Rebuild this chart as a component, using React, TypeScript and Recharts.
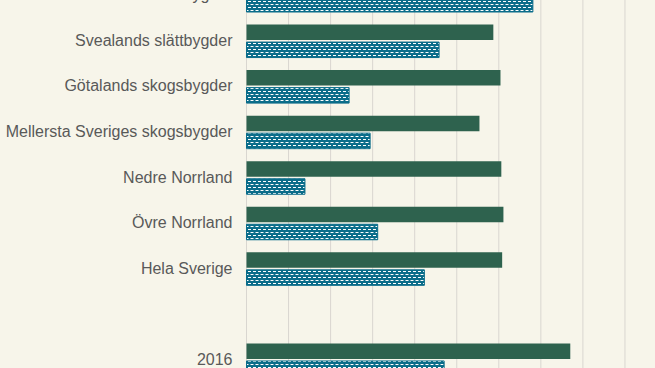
import { BarChart, Bar, XAxis, YAxis, CartesianGrid } from "recharts";

const categories = [
  "Götalands norra slättbygder",
  "Svealands slättbygder",
  "Götalands skogsbygder",
  "Mellersta Sveriges skogsbygder",
  "Nedre Norrland",
  "Övre Norrland",
  "Hela Sverige",
  "",
  "2016",
];

const seriesA = [63, 58.7, 60.4, 55.4, 60.6, 61.1, 60.8, null, 77.0];
const seriesB = [68.1, 45.8, 24.4, 29.4, 13.9, 31.2, 42.3, null, 47.0];

const xTicks = [0, 10, 20, 30, 40, 50, 60, 70, 80, 90, 100];

const data = categories.map((name, i) => ({
  name,
  a: seriesA[i],
  b: seriesB[i],
}));

const BG = "#f7f5ea";

function CategoryTick({ x, y, payload }: { x?: number; y?: number; payload?: { value: string } }) {
  return (
    <text
      x={x}
      y={(y ?? 0) + 4.5}
      textAnchor="end"
      fontSize={16}
      fill="#595959"
      fontFamily="Liberation Sans, Arial, sans-serif"
    >
      {payload?.value}
    </text>
  );
}

export default function App() {
  return (
    <div
      style={{
        position: "fixed",
        left: 0,
        top: 0,
        width: 655,
        height: 368,
        overflow: "hidden",
        background: BG,
      }}
    >
      <div style={{ position: "absolute", left: 0, top: -27 }}>
        <BarChart
          width={667}
          height={420}
          data={data}
          layout="vertical"
          barSize={15.5}
          barGap={2}
          margin={{ top: 0, right: 0, bottom: 10, left: 0.5 }}
        >
          <defs>
            <pattern id="dashes" patternUnits="userSpaceOnUse" width="5" height="6">
              <rect x="0" y="0" width="5" height="6" fill="#0b6d8a" />
              <rect x="0.5" y="1" width="3" height="1" fill="#ffffff" />
              <rect x="3" y="4" width="3" height="1" fill="#ffffff" />
              <rect x="-2" y="4" width="3" height="1" fill="#ffffff" />
            </pattern>
          </defs>
          <CartesianGrid horizontal={false} stroke="#d9d6d0" />
          <XAxis type="number" domain={[0, 100]} ticks={xTicks} hide />
          <YAxis
            type="category"
            dataKey="name"
            width={246}
            axisLine={false}
            tickLine={false}
            tickMargin={8}
            interval={0}
            tick={<CategoryTick />}
          />
          <Bar dataKey="a" fill="#2e624e" isAnimationActive={false} />
          <Bar
            dataKey="b"
            fill="url(#dashes)"
            stroke="#0b6d8a"
            strokeWidth={1}
            isAnimationActive={false}
          />
        </BarChart>
      </div>
    </div>
  );
}
